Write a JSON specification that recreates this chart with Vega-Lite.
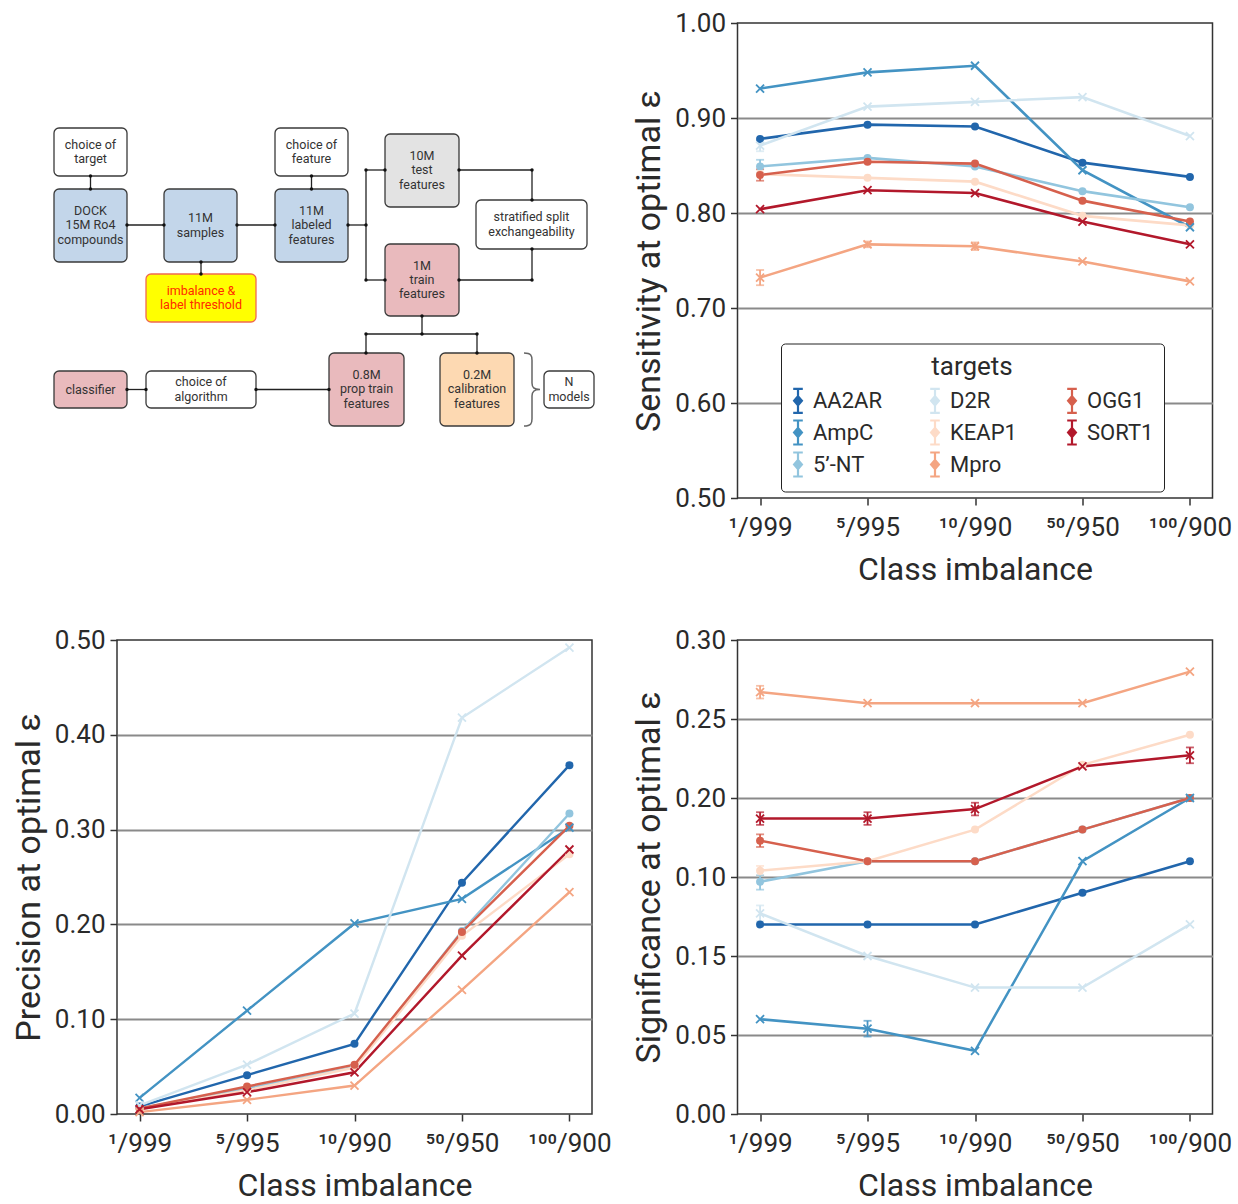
{
  "$schema": "https://vega.github.io/schema/vega-lite/v6.json",
  "background": "white",
  "padding": {"left": 11, "top": 9, "right": 5, "bottom": 5},
  "columns": 2,
  "bounds": "flush",
  "spacing": {"row": 142, "column": 145.5},
  "datasets": {
    "d": [
      {"m":"sens","t":"AA2AR","c":"1/999","v":0.878},{"m":"sens","t":"AA2AR","c":"5/995","v":0.893},{"m":"sens","t":"AA2AR","c":"10/990","v":0.891},{"m":"sens","t":"AA2AR","c":"50/950","v":0.853},{"m":"sens","t":"AA2AR","c":"100/900","v":0.838},
      {"m":"sens","t":"AmpC","c":"1/999","v":0.931},{"m":"sens","t":"AmpC","c":"5/995","v":0.948},{"m":"sens","t":"AmpC","c":"10/990","v":0.955},{"m":"sens","t":"AmpC","c":"50/950","v":0.845},{"m":"sens","t":"AmpC","c":"100/900","v":0.785},
      {"m":"sens","t":"5’-NT","c":"1/999","v":0.849},{"m":"sens","t":"5’-NT","c":"5/995","v":0.858},{"m":"sens","t":"5’-NT","c":"10/990","v":0.849},{"m":"sens","t":"5’-NT","c":"50/950","v":0.823},{"m":"sens","t":"5’-NT","c":"100/900","v":0.806},
      {"m":"sens","t":"D2R","c":"1/999","v":0.871},{"m":"sens","t":"D2R","c":"5/995","v":0.912},{"m":"sens","t":"D2R","c":"10/990","v":0.917},{"m":"sens","t":"D2R","c":"50/950","v":0.922},{"m":"sens","t":"D2R","c":"100/900","v":0.881},
      {"m":"sens","t":"KEAP1","c":"1/999","v":0.841},{"m":"sens","t":"KEAP1","c":"5/995","v":0.837},{"m":"sens","t":"KEAP1","c":"10/990","v":0.833},{"m":"sens","t":"KEAP1","c":"50/950","v":0.797},{"m":"sens","t":"KEAP1","c":"100/900","v":0.787},
      {"m":"sens","t":"Mpro","c":"1/999","v":0.732},{"m":"sens","t":"Mpro","c":"5/995","v":0.767},{"m":"sens","t":"Mpro","c":"10/990","v":0.765},{"m":"sens","t":"Mpro","c":"50/950","v":0.749},{"m":"sens","t":"Mpro","c":"100/900","v":0.728},
      {"m":"sens","t":"OGG1","c":"1/999","v":0.840},{"m":"sens","t":"OGG1","c":"5/995","v":0.854},{"m":"sens","t":"OGG1","c":"10/990","v":0.852},{"m":"sens","t":"OGG1","c":"50/950","v":0.813},{"m":"sens","t":"OGG1","c":"100/900","v":0.791},
      {"m":"sens","t":"SORT1","c":"1/999","v":0.804},{"m":"sens","t":"SORT1","c":"5/995","v":0.824},{"m":"sens","t":"SORT1","c":"10/990","v":0.821},{"m":"sens","t":"SORT1","c":"50/950","v":0.791},{"m":"sens","t":"SORT1","c":"100/900","v":0.767},

      {"m":"prec","t":"AA2AR","c":"1/999","v":0.008},{"m":"prec","t":"AA2AR","c":"5/995","v":0.041},{"m":"prec","t":"AA2AR","c":"10/990","v":0.074},{"m":"prec","t":"AA2AR","c":"50/950","v":0.244},{"m":"prec","t":"AA2AR","c":"100/900","v":0.368},
      {"m":"prec","t":"AmpC","c":"1/999","v":0.017},{"m":"prec","t":"AmpC","c":"5/995","v":0.109},{"m":"prec","t":"AmpC","c":"10/990","v":0.201},{"m":"prec","t":"AmpC","c":"50/950","v":0.227},{"m":"prec","t":"AmpC","c":"100/900","v":0.302},
      {"m":"prec","t":"5’-NT","c":"1/999","v":0.006},{"m":"prec","t":"5’-NT","c":"5/995","v":0.027},{"m":"prec","t":"5’-NT","c":"10/990","v":0.050},{"m":"prec","t":"5’-NT","c":"50/950","v":0.193},{"m":"prec","t":"5’-NT","c":"100/900","v":0.317},
      {"m":"prec","t":"D2R","c":"1/999","v":0.009},{"m":"prec","t":"D2R","c":"5/995","v":0.052},{"m":"prec","t":"D2R","c":"10/990","v":0.106},{"m":"prec","t":"D2R","c":"50/950","v":0.418},{"m":"prec","t":"D2R","c":"100/900","v":0.492},
      {"m":"prec","t":"KEAP1","c":"1/999","v":0.005},{"m":"prec","t":"KEAP1","c":"5/995","v":0.025},{"m":"prec","t":"KEAP1","c":"10/990","v":0.049},{"m":"prec","t":"KEAP1","c":"50/950","v":0.188},{"m":"prec","t":"KEAP1","c":"100/900","v":0.274},
      {"m":"prec","t":"Mpro","c":"1/999","v":0.002},{"m":"prec","t":"Mpro","c":"5/995","v":0.015},{"m":"prec","t":"Mpro","c":"10/990","v":0.030},{"m":"prec","t":"Mpro","c":"50/950","v":0.131},{"m":"prec","t":"Mpro","c":"100/900","v":0.234},
      {"m":"prec","t":"OGG1","c":"1/999","v":0.006},{"m":"prec","t":"OGG1","c":"5/995","v":0.029},{"m":"prec","t":"OGG1","c":"10/990","v":0.052},{"m":"prec","t":"OGG1","c":"50/950","v":0.192},{"m":"prec","t":"OGG1","c":"100/900","v":0.304},
      {"m":"prec","t":"SORT1","c":"1/999","v":0.005},{"m":"prec","t":"SORT1","c":"5/995","v":0.023},{"m":"prec","t":"SORT1","c":"10/990","v":0.044},{"m":"prec","t":"SORT1","c":"50/950","v":0.167},{"m":"prec","t":"SORT1","c":"100/900","v":0.279},

      {"m":"sig","t":"AA2AR","c":"1/999","v":0.120},{"m":"sig","t":"AA2AR","c":"5/995","v":0.120},{"m":"sig","t":"AA2AR","c":"10/990","v":0.120},{"m":"sig","t":"AA2AR","c":"50/950","v":0.140},{"m":"sig","t":"AA2AR","c":"100/900","v":0.160},
      {"m":"sig","t":"AmpC","c":"1/999","v":0.060},{"m":"sig","t":"AmpC","c":"5/995","v":0.054},{"m":"sig","t":"AmpC","c":"10/990","v":0.040},{"m":"sig","t":"AmpC","c":"50/950","v":0.160},{"m":"sig","t":"AmpC","c":"100/900","v":0.200},
      {"m":"sig","t":"5’-NT","c":"1/999","v":0.147},{"m":"sig","t":"5’-NT","c":"5/995","v":0.160},{"m":"sig","t":"5’-NT","c":"10/990","v":0.160},{"m":"sig","t":"5’-NT","c":"50/950","v":0.180},{"m":"sig","t":"5’-NT","c":"100/900","v":0.200},
      {"m":"sig","t":"D2R","c":"1/999","v":0.127},{"m":"sig","t":"D2R","c":"5/995","v":0.100},{"m":"sig","t":"D2R","c":"10/990","v":0.080},{"m":"sig","t":"D2R","c":"50/950","v":0.080},{"m":"sig","t":"D2R","c":"100/900","v":0.120},
      {"m":"sig","t":"KEAP1","c":"1/999","v":0.154},{"m":"sig","t":"KEAP1","c":"5/995","v":0.160},{"m":"sig","t":"KEAP1","c":"10/990","v":0.180},{"m":"sig","t":"KEAP1","c":"50/950","v":0.221},{"m":"sig","t":"KEAP1","c":"100/900","v":0.240},
      {"m":"sig","t":"Mpro","c":"1/999","v":0.267},{"m":"sig","t":"Mpro","c":"5/995","v":0.260},{"m":"sig","t":"Mpro","c":"10/990","v":0.260},{"m":"sig","t":"Mpro","c":"50/950","v":0.260},{"m":"sig","t":"Mpro","c":"100/900","v":0.280},
      {"m":"sig","t":"OGG1","c":"1/999","v":0.173},{"m":"sig","t":"OGG1","c":"5/995","v":0.160},{"m":"sig","t":"OGG1","c":"10/990","v":0.160},{"m":"sig","t":"OGG1","c":"50/950","v":0.180},{"m":"sig","t":"OGG1","c":"100/900","v":0.200},
      {"m":"sig","t":"SORT1","c":"1/999","v":0.187},{"m":"sig","t":"SORT1","c":"5/995","v":0.187},{"m":"sig","t":"SORT1","c":"10/990","v":0.193},{"m":"sig","t":"SORT1","c":"50/950","v":0.220},{"m":"sig","t":"SORT1","c":"100/900","v":0.227}
    ],
    "err": [
      {"m":"sens","t":"Mpro","c":"1/999","lo":0.724,"hi":0.740},
      {"m":"sens","t":"Mpro","c":"5/995","lo":0.764,"hi":0.770},
      {"m":"sens","t":"Mpro","c":"10/990","lo":0.761,"hi":0.769},
      {"m":"sens","t":"5’-NT","c":"1/999","lo":0.842,"hi":0.856},
      {"m":"sens","t":"OGG1","c":"1/999","lo":0.834,"hi":0.846},
      {"m":"sens","t":"D2R","c":"1/999","lo":0.865,"hi":0.877},
      {"m":"sig","t":"Mpro","c":"1/999","lo":0.263,"hi":0.271},
      {"m":"sig","t":"SORT1","c":"1/999","lo":0.183,"hi":0.191},
      {"m":"sig","t":"SORT1","c":"5/995","lo":0.183,"hi":0.191},
      {"m":"sig","t":"SORT1","c":"10/990","lo":0.189,"hi":0.197},
      {"m":"sig","t":"SORT1","c":"100/900","lo":0.222,"hi":0.232},
      {"m":"sig","t":"OGG1","c":"1/999","lo":0.169,"hi":0.177},
      {"m":"sig","t":"KEAP1","c":"1/999","lo":0.151,"hi":0.157},
      {"m":"sig","t":"5’-NT","c":"1/999","lo":0.142,"hi":0.151},
      {"m":"sig","t":"D2R","c":"1/999","lo":0.122,"hi":0.132},
      {"m":"sig","t":"AmpC","c":"5/995","lo":0.049,"hi":0.059}
    ],
    "boxes": [
      {"k":"w","x1":1,"x2":74,"y1":1,"y2":49,"xc":37.5,"yt":17.85,"label":"choice of\ntarget"},
      {"k":"b","x1":1,"x2":74,"y1":62,"y2":135,"xc":37.5,"yt":84.2,"label":"DOCK\n15M Ro4\ncompounds"},
      {"k":"b","x1":111,"x2":184,"y1":62,"y2":135,"xc":147.5,"yt":91.35,"label":"11M\nsamples"},
      {"k":"y","x1":93,"x2":203,"y1":147,"y2":195,"xc":148,"yt":163.85,"label":"imbalance &\nlabel threshold"},
      {"k":"w","x1":222,"x2":295,"y1":1,"y2":49,"xc":258.5,"yt":17.85,"label":"choice of\nfeature"},
      {"k":"b","x1":222,"x2":295,"y1":62,"y2":135,"xc":258.5,"yt":84.2,"label":"11M\nlabeled\nfeatures"},
      {"k":"g","x1":332,"x2":406,"y1":7,"y2":80,"xc":369,"yt":29.2,"label":"10M\ntest\nfeatures"},
      {"k":"w","x1":423,"x2":534,"y1":73,"y2":122,"xc":478.5,"yt":90.35,"label":"stratified split\nexchangeability"},
      {"k":"p","x1":332,"x2":406,"y1":117,"y2":189,"xc":369,"yt":138.7,"label":"1M\ntrain\nfeatures"},
      {"k":"p","x1":276,"x2":351,"y1":226,"y2":299,"xc":313.5,"yt":248.2,"label":"0.8M\nprop train\nfeatures"},
      {"k":"o","x1":387,"x2":461,"y1":226,"y2":299,"xc":424,"yt":248.2,"label":"0.2M\ncalibration\nfeatures"},
      {"k":"w","x1":491,"x2":541,"y1":244,"y2":281,"xc":516,"yt":255.35,"label":"N\nmodels"},
      {"k":"p","x1":1,"x2":74,"y1":244,"y2":281,"xc":37.5,"yt":262.5,"label":"classifier"},
      {"k":"w","x1":93,"x2":203,"y1":244,"y2":281,"xc":148,"yt":255.35,"label":"choice of\nalgorithm"}
    ],
    "links": [
      {"a":37.5,"b":49,"a2":37.5,"b2":62},
      {"a":74,"b":98,"a2":111,"b2":98},
      {"a":184,"b":98,"a2":222,"b2":98},
      {"a":148,"b":135,"a2":148,"b2":147},
      {"a":258.5,"b":49,"a2":258.5,"b2":62},
      {"a":295,"b":98,"a2":313,"b2":98},
      {"a":313,"b":43,"a2":313,"b2":153},
      {"a":313,"b":43,"a2":332,"b2":43},
      {"a":313,"b":153,"a2":332,"b2":153},
      {"a":406,"b":43,"a2":479,"b2":43},
      {"a":479,"b":43,"a2":479,"b2":73},
      {"a":406,"b":153,"a2":479,"b2":153},
      {"a":479,"b":122,"a2":479,"b2":153},
      {"a":369,"b":189,"a2":369,"b2":207},
      {"a":313,"b":207,"a2":424,"b2":207},
      {"a":313,"b":207,"a2":313,"b2":226},
      {"a":424,"b":207,"a2":424,"b2":226},
      {"a":74,"b":262.5,"a2":93,"b2":262.5},
      {"a":203,"b":262.5,"a2":276,"b2":262.5}
    ],
    "dots": [
      {"a":37.5,"b":49},{"a":37.5,"b":62},{"a":74,"b":98},{"a":111,"b":98},{"a":184,"b":98},{"a":222,"b":98},
      {"a":148,"b":135},{"a":148,"b":147},{"a":258.5,"b":49},{"a":258.5,"b":62},{"a":295,"b":98},{"a":313,"b":98},
      {"a":313,"b":43},{"a":313,"b":153},{"a":332,"b":43},{"a":332,"b":153},{"a":406,"b":43},{"a":479,"b":43},
      {"a":479,"b":73},{"a":406,"b":153},{"a":479,"b":153},{"a":479,"b":122},{"a":369,"b":189},{"a":369,"b":207},
      {"a":313,"b":207},{"a":424,"b":207},{"a":313,"b":226},{"a":424,"b":226},{"a":74,"b":262.5},{"a":93,"b":262.5},
      {"a":203,"b":262.5},{"a":276,"b":262.5}
    ],
    "brace": [{"a":479,"b":262.5}]
  },
  "concat": [
    {
      "width": 475, "height": 475,
      "view": {"stroke": null},
      "layer": [
        {"data": {"name": "links"}, "mark": {"type": "rule", "color": "#222", "strokeWidth": 1.3},
         "encoding": {
           "x": {"field": "a", "type": "quantitative", "scale": {"domain": [64, 539], "nice": false, "zero": false}, "axis": null},
           "y": {"field": "b", "type": "quantitative", "scale": {"domain": [-104, 371], "nice": false, "zero": false, "reverse": true}, "axis": null},
           "x2": {"field": "a2"}, "y2": {"field": "b2"}}},
        {"data": {"name": "boxes"}, "mark": {"type": "rect", "cornerRadius": 5, "strokeWidth": 1.3},
         "encoding": {
           "x": {"field": "x1", "type": "quantitative", "scale": {"domain": [64, 539], "nice": false, "zero": false}, "axis": null},
           "x2": {"field": "x2"},
           "y": {"field": "y1", "type": "quantitative", "scale": {"domain": [-104, 371], "nice": false, "zero": false, "reverse": true}, "axis": null},
           "y2": {"field": "y2"},
           "fill": {"field": "k", "type": "nominal", "legend": null, "scale": {"domain": ["w","b","g","p","o","y"], "range": ["#ffffff","#c3d6ea","#e3e3e3","#e9babd","#fdd9b2","#ffff00"]}},
           "stroke": {"field": "k", "type": "nominal", "legend": null, "scale": {"domain": ["w","b","g","p","o","y"], "range": ["#3a3a3a","#3a3a3a","#3a3a3a","#3a3a3a","#3a3a3a","#f06a50"]}}}},
        {"data": {"name": "dots"}, "mark": {"type": "point", "filled": true, "size": 12, "color": "#111", "opacity": 1},
         "encoding": {
           "x": {"field": "a", "type": "quantitative", "axis": null},
           "y": {"field": "b", "type": "quantitative", "axis": null}}},
        {"data": {"name": "boxes"}, "mark": {"type": "text", "fontSize": 12.5, "lineBreak": "\n", "lineHeight": 14.3, "baseline": "middle", "align": "center", "font": "Roboto"},
         "encoding": {
           "x": {"field": "xc", "type": "quantitative", "axis": null},
           "y": {"field": "yt", "type": "quantitative", "axis": null},
           "text": {"field": "label"},
           "color": {"field": "k", "type": "nominal", "legend": null, "scale": {"domain": ["w","b","g","p","o","y"], "range": ["#333333","#333333","#333333","#333333","#333333","#ff2a00"]}}}},
        {"data": {"name": "brace"}, "mark": {"type": "point", "filled": false, "size": 5330, "strokeWidth": 1.5, "color": "#666", "opacity": 1,
                                             "shape": "M-0.22,-1C-0.02,-1 0,-0.92 0,-0.8L0,-0.18C0,-0.06 0.05,0 0.22,0C0.05,0 0,0.06 0,0.18L0,0.8C0,0.92 -0.02,1 -0.22,1"},
         "encoding": {
           "x": {"field": "a", "type": "quantitative", "axis": null},
           "y": {"field": "b", "type": "quantitative", "axis": null}}}
      ]
    },
    {
      "width": 475, "height": 475,
      "layer": [
        {"data": {"name": "d"}, "transform": [{"filter": "datum.m=='sens'"}],
         "mark": {"type": "line", "strokeWidth": 2.6},
         "encoding": {
           "x": {"field": "c", "type": "ordinal", "sort": ["1/999","5/995","10/990","50/950","100/900"], "scale": {"type": "point", "padding": 0.21}, "title": "Class imbalance",
                 "axis": {"labelExpr": "datum.label=='1/999'?'¹/999':datum.label=='5/995'?'⁵/995':datum.label=='10/990'?'¹⁰/990':datum.label=='50/950'?'⁵⁰/950':'¹⁰⁰/900'"}},
           "y": {"field": "v", "type": "quantitative", "scale": {"domain": [0.5, 1.0], "nice": false, "zero": false}, "title": "Sensitivity at optimal  ε",
                 "axis": {"values": [0.5,0.6,0.7,0.8,0.9,1.0], "format": ".2f", "gridOpacity": {"condition": {"test": "datum.value < 0.55 || datum.value > 0.95", "value": 0}, "value": 1}}},
           "color": {"field": "t", "type": "nominal", "scale": {"domain": ["AA2AR","AmpC","5’-NT","D2R","KEAP1","Mpro","OGG1","SORT1"], "range": ["#2166ac","#4393c3","#92c5de","#d1e5f0","#fddbc7","#f4a582","#d6604d","#b2182b"]},
                     "legend": {"orient": "none", "legendX": 43.5, "legendY": 320.5, "columns": 3, "title": "targets", "titleFontSize": 26, "titleFontWeight": "normal", "titleColor": "#2a2a2a", "titleAnchor": "middle", "titleAlign": "center", "titlePadding": 10,
                                "labelFontSize": 22, "labelColor": "#2a2a2a", "labelOffset": 4, "symbolOffset": -4,
                                "symbolType": "M0,-2L0,2M-0.8,-2L0.8,-2M-0.8,2L0.8,2M0,-0.75L0.65,0L0,0.75L-0.65,0Z", "symbolSize": 144, "symbolStrokeWidth": 2.2,
                                "columnPadding": 43, "rowPadding": -2, "padding": 10, "strokeColor": "#222", "fillColor": "white", "cornerRadius": 4, "gridAlign": "all"}}}},
        {"data": {"name": "err"}, "transform": [{"filter": "datum.m=='sens'"}],
         "mark": {"type": "errorbar", "ticks": {"size": 8}, "thickness": 1.8},
         "encoding": {
           "x": {"field": "c", "type": "ordinal", "sort": ["1/999","5/995","10/990","50/950","100/900"], "scale": {"type": "point", "padding": 0.21}, "title": "Class imbalance"},
           "y": {"field": "lo", "type": "quantitative", "scale": {"domain": [0.5, 1.0], "nice": false, "zero": false}, "title": "Sensitivity at optimal  ε"},
           "y2": {"field": "hi"},
           "color": {"field": "t", "type": "nominal", "legend": null}}},
        {"data": {"name": "d"}, "transform": [{"filter": "datum.m=='sens' && indexof(['AA2AR','5’-NT','KEAP1','OGG1'], datum.t) >= 0"}],
         "mark": {"type": "point", "filled": true, "size": 64, "shape": "circle", "opacity": 1},
         "encoding": {
           "x": {"field": "c", "type": "ordinal", "sort": ["1/999","5/995","10/990","50/950","100/900"], "scale": {"type": "point", "padding": 0.21}},
           "y": {"field": "v", "type": "quantitative"},
           "color": {"field": "t", "type": "nominal", "legend": null}}},
        {"data": {"name": "d"}, "transform": [{"filter": "datum.m=='sens' && indexof(['AA2AR','5’-NT','KEAP1','OGG1'], datum.t) < 0"}],
         "mark": {"type": "point", "filled": false, "size": 64, "strokeWidth": 1.8, "shape": "M-1,-1L1,1M-1,1L1,-1", "opacity": 1},
         "encoding": {
           "x": {"field": "c", "type": "ordinal", "sort": ["1/999","5/995","10/990","50/950","100/900"], "scale": {"type": "point", "padding": 0.21}},
           "y": {"field": "v", "type": "quantitative"},
           "color": {"field": "t", "type": "nominal", "legend": null}}}
      ]
    },
    {
      "width": 475, "height": 474,
      "layer": [
        {"data": {"name": "d"}, "transform": [{"filter": "datum.m=='prec'"}],
         "mark": {"type": "line", "strokeWidth": 2.4},
         "encoding": {
           "x": {"field": "c", "type": "ordinal", "sort": ["1/999","5/995","10/990","50/950","100/900"], "scale": {"type": "point", "padding": 0.21}, "title": "Class imbalance",
                 "axis": {"labelExpr": "datum.label=='1/999'?'¹/999':datum.label=='5/995'?'⁵/995':datum.label=='10/990'?'¹⁰/990':datum.label=='50/950'?'⁵⁰/950':'¹⁰⁰/900'"}},
           "y": {"field": "v", "type": "quantitative", "scale": {"domain": [0, 0.5], "nice": false, "zero": false}, "title": "Precision at optimal  ε",
                 "axis": {"values": [0,0.1,0.2,0.3,0.4,0.5], "format": ".2f", "gridOpacity": {"condition": {"test": "datum.value < 0.05 || datum.value > 0.45", "value": 0}, "value": 1}}},
           "color": {"field": "t", "type": "nominal", "legend": null, "scale": {"domain": ["AA2AR","AmpC","5’-NT","D2R","KEAP1","Mpro","OGG1","SORT1"], "range": ["#2166ac","#4393c3","#92c5de","#d1e5f0","#fddbc7","#f4a582","#d6604d","#b2182b"]}}}},
        {"data": {"name": "d"}, "transform": [{"filter": "datum.m=='prec' && indexof(['AA2AR','5’-NT','KEAP1','OGG1'], datum.t) >= 0"}],
         "mark": {"type": "point", "filled": true, "size": 64, "shape": "circle", "opacity": 1},
         "encoding": {
           "x": {"field": "c", "type": "ordinal", "sort": ["1/999","5/995","10/990","50/950","100/900"], "scale": {"type": "point", "padding": 0.21}},
           "y": {"field": "v", "type": "quantitative"},
           "color": {"field": "t", "type": "nominal", "legend": null}}},
        {"data": {"name": "d"}, "transform": [{"filter": "datum.m=='prec' && indexof(['AA2AR','5’-NT','KEAP1','OGG1'], datum.t) < 0"}],
         "mark": {"type": "point", "filled": false, "size": 64, "strokeWidth": 1.8, "shape": "M-1,-1L1,1M-1,1L1,-1", "opacity": 1},
         "encoding": {
           "x": {"field": "c", "type": "ordinal", "sort": ["1/999","5/995","10/990","50/950","100/900"], "scale": {"type": "point", "padding": 0.21}},
           "y": {"field": "v", "type": "quantitative"},
           "color": {"field": "t", "type": "nominal", "legend": null}}}
      ]
    },
    {
      "width": 475, "height": 474,
      "layer": [
        {"data": {"name": "d"}, "transform": [{"filter": "datum.m=='sig'"}],
         "mark": {"type": "line", "strokeWidth": 2.5},
         "encoding": {
           "x": {"field": "c", "type": "ordinal", "sort": ["1/999","5/995","10/990","50/950","100/900"], "scale": {"type": "point", "padding": 0.21}, "title": "Class imbalance",
                 "axis": {"labelExpr": "datum.label=='1/999'?'¹/999':datum.label=='5/995'?'⁵/995':datum.label=='10/990'?'¹⁰/990':datum.label=='50/950'?'⁵⁰/950':'¹⁰⁰/900'"}},
           "y": {"field": "v", "type": "quantitative", "scale": {"domain": [0, 0.3], "nice": false, "zero": false}, "title": "Significance at optimal  ε",
                 "axis": {"values": [0,0.05,0.1,0.15,0.2,0.25,0.3], "labelExpr": "abs(datum.value-0.1)<0.001 ? '0.15' : abs(datum.value-0.15)<0.001 ? '0.10' : format(datum.value, '.2f')", "gridOpacity": {"condition": {"test": "datum.value < 0.02 || datum.value > 0.28", "value": 0}, "value": 1}}},
           "color": {"field": "t", "type": "nominal", "legend": null, "scale": {"domain": ["AA2AR","AmpC","5’-NT","D2R","KEAP1","Mpro","OGG1","SORT1"], "range": ["#2166ac","#4393c3","#92c5de","#d1e5f0","#fddbc7","#f4a582","#d6604d","#b2182b"]}}}},
        {"data": {"name": "err"}, "transform": [{"filter": "datum.m=='sig'"}],
         "mark": {"type": "errorbar", "ticks": {"size": 8}, "thickness": 1.8},
         "encoding": {
           "x": {"field": "c", "type": "ordinal", "sort": ["1/999","5/995","10/990","50/950","100/900"], "scale": {"type": "point", "padding": 0.21}, "title": "Class imbalance"},
           "y": {"field": "lo", "type": "quantitative", "scale": {"domain": [0, 0.3], "nice": false, "zero": false}, "title": "Significance at optimal  ε"},
           "y2": {"field": "hi"},
           "color": {"field": "t", "type": "nominal", "legend": null}}},
        {"data": {"name": "d"}, "transform": [{"filter": "datum.m=='sig' && indexof(['AA2AR','5’-NT','KEAP1','OGG1'], datum.t) >= 0"}],
         "mark": {"type": "point", "filled": true, "size": 64, "shape": "circle", "opacity": 1},
         "encoding": {
           "x": {"field": "c", "type": "ordinal", "sort": ["1/999","5/995","10/990","50/950","100/900"], "scale": {"type": "point", "padding": 0.21}},
           "y": {"field": "v", "type": "quantitative"},
           "color": {"field": "t", "type": "nominal", "legend": null}}},
        {"data": {"name": "d"}, "transform": [{"filter": "datum.m=='sig' && indexof(['AA2AR','5’-NT','KEAP1','OGG1'], datum.t) < 0"}],
         "mark": {"type": "point", "filled": false, "size": 64, "strokeWidth": 1.8, "shape": "M-1,-1L1,1M-1,1L1,-1", "opacity": 1},
         "encoding": {
           "x": {"field": "c", "type": "ordinal", "sort": ["1/999","5/995","10/990","50/950","100/900"], "scale": {"type": "point", "padding": 0.21}},
           "y": {"field": "v", "type": "quantitative"},
           "color": {"field": "t", "type": "nominal", "legend": null}}}
      ]
    }
  ],
  "resolve": {"scale": {"color": "independent", "fill": "independent", "stroke": "independent"},
              "legend": {"color": "independent", "fill": "independent", "stroke": "independent"}},
  "config": {
    "font": "Roboto",
    "view": {"stroke": "#333", "strokeWidth": 1.5},
    "axis": {"labelFontSize": 26, "labelColor": "#2a2a2a", "titleFontSize": 34, "titleFontWeight": "normal", "titleColor": "#2a2a2a",
             "tickColor": "#333", "tickSize": 7, "tickWidth": 1.5, "domain": false, "labelPadding": 5, "gridColor": "#8a8a8a", "gridWidth": 2},
    "axisX": {"grid": false, "labelAngle": 0, "labelPadding": 9, "titlePadding": 14, "titleFontSize": 32},
    "axisY": {"grid": true, "titlePadding": 8}
  }
}
